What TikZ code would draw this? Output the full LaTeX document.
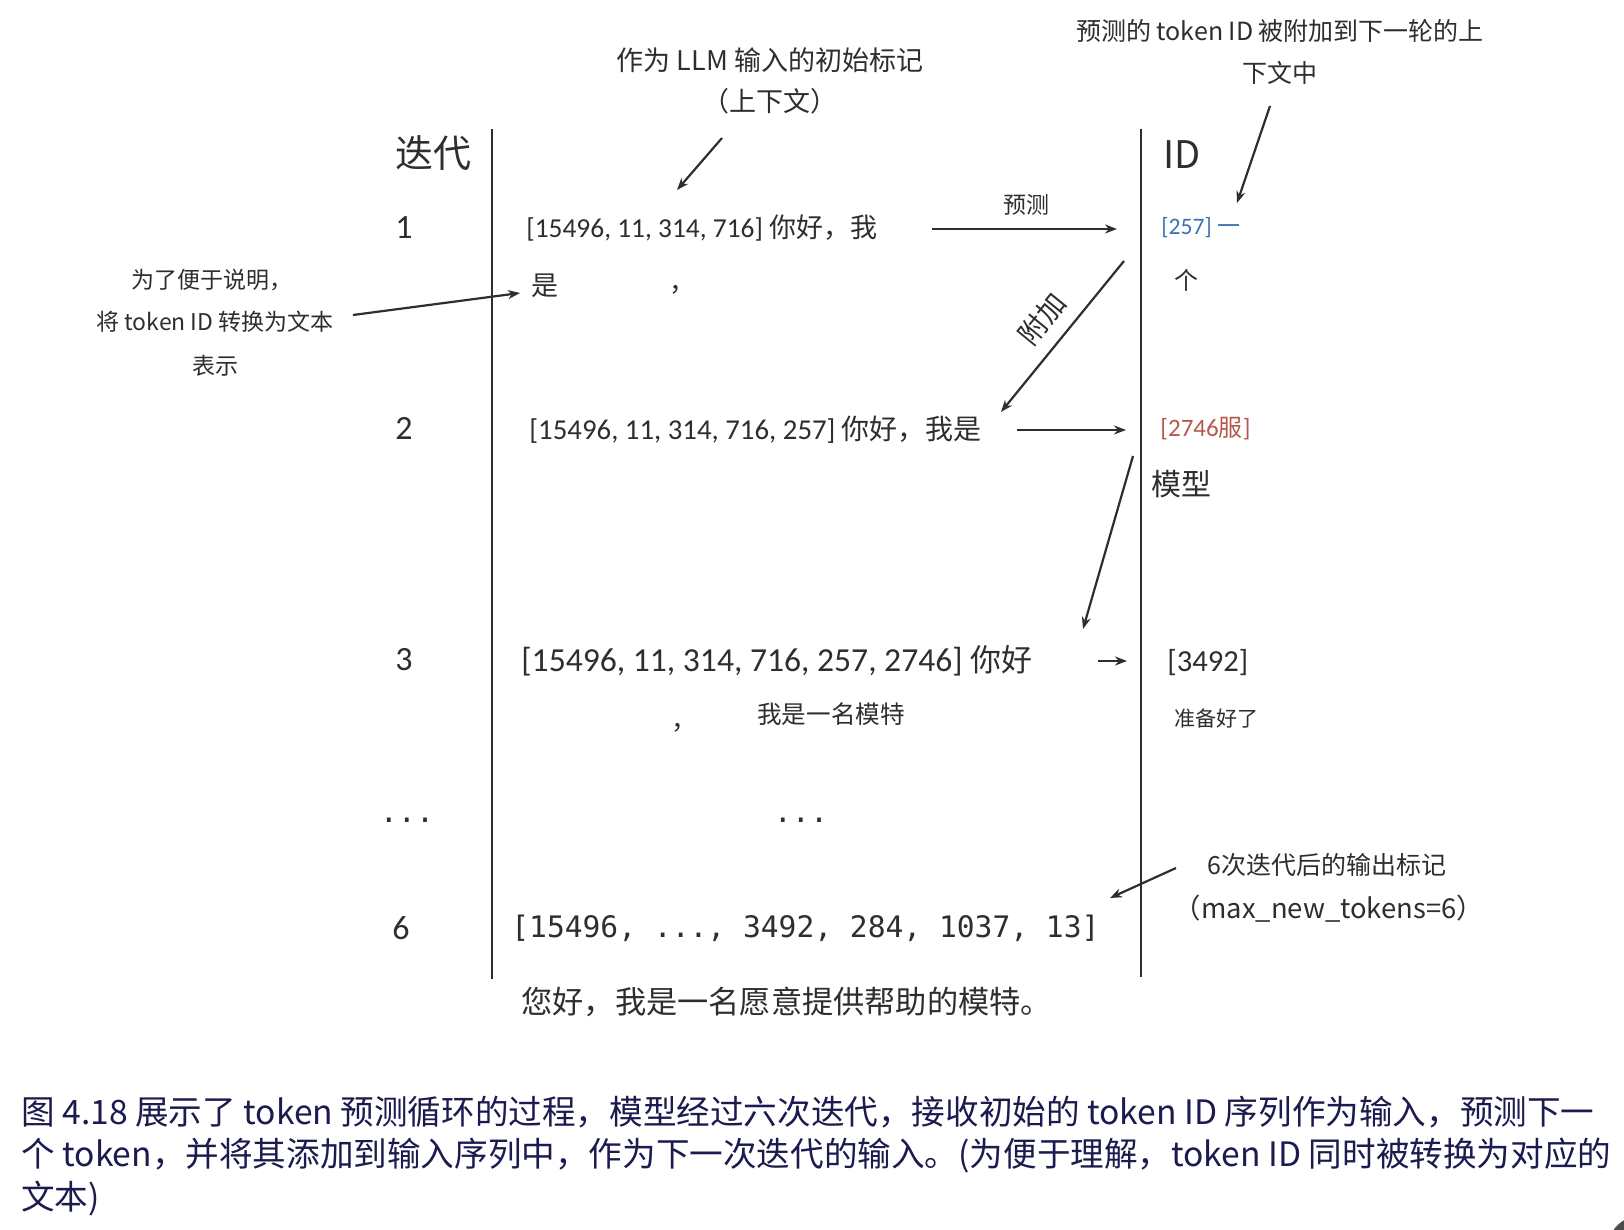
\documentclass[tikz,border=0pt]{standalone}
\usepackage{fontspec}
\setmainfont{Noto Sans CJK SC}
\newfontfamily\numf{Carlito}
\newfontfamily\monof{DejaVu Sans Mono}
\usetikzlibrary{arrows.meta}
\newcommand\fsz[1]{\fontsize{#1pt}{#1pt}\selectfont}
\definecolor{ink}{HTML}{2E2E2E}
\definecolor{blueid}{HTML}{3D72B8}
\definecolor{redid}{HTML}{B5594C}
\definecolor{capcol}{HTML}{1B1B50}
\begin{document}
\begin{tikzpicture}[x=0.5pt,y=-0.5pt,
  every node/.style={inner sep=0pt, text=ink},
  arr/.style={draw=ink, line width=1.1pt, -{Stealth[length=6pt,width=4.5pt]}},
  vline/.style={draw=ink, line width=1.1pt},
  rownum/.style={font=\numf\fsz{17}},
  note/.style={font=\fsz{12.5}},
  caption/.style={anchor=west, text=capcol, font=\fsz{16.8}}]

\useasboundingbox (0,0) rectangle (1624,1230);
\fill[white] (0,0) rectangle (1624,1230);

% vertical axes
\coordinate (lt) at (492,129);
\coordinate (lb) at (492,979);
\coordinate (rt) at (1141,129);
\coordinate (rb) at (1141,977);
\draw[vline] (lt) -- (lb);
\draw[vline] (rt) -- (rb);

% headers
\node (hiter) at (433,153) {\fsz{19}迭代};
\node (hid) at (1182,155) {\fsz{19}ID};

% top annotations
\node[note, font=\fsz{13.5}] (n1a) at (770,60) {作为 LLM 输入的初始标记};
\node[note, font=\fsz{13.5}] (n1b) at (770,101) {（上下文）};
\node[note] (n2a) at (1280,31) {预测的 token ID 被附加到下一轮的上};
\node[note] (n2b) at (1280,73) {下文中};

% left annotation
\node[font=\fsz{11.5}] (n3a) at (212,280) {为了便于说明，};
\node[font=\fsz{11.5}] (n3b) at (215,322) {将 token ID 转换为文本};
\node[font=\fsz{11.5}] (n3c) at (215,366) {表示};

% row numbers
\node[rownum] (r1) at (404,228) {1};
\node[rownum] (r2) at (404,428) {2};
\node[rownum] (r3) at (404,660) {3};
\node[font=\monof\fsz{15}] (rdots) at (407,820) {...};
\node[rownum] (r6) at (401,928) {6};

% row 1
\node[anchor=west] (t1) at (526,228) {{\numf\fsz{13.7}[15496, 11, 314, 716]\ }{\fsz{13.5}你好，我}};
\node[anchor=west, font=\fsz{13.5}] (t1b) at (531,286) {是};
\node[font=\fsz{13}] (t1c) at (682,290) {，};
\node[font=\fsz{11.5}] (lpred) at (1026,205) {预测};
\node[anchor=west, text=blueid] (o1) at (1161,228) {{\numf\fsz{11.8}[257]\ }{\fsz{11.5}一}};
\node[font=\fsz{12}] (o1b) at (1186,280) {个};

% row 2
\node[anchor=west] (t2) at (529,430) {{\numf\fsz{14.4}[15496, 11, 314, 716, 257]\ }{\fsz{14}你好，我是}};
\node[anchor=west, text=redid] (o2) at (1160,429) {{\numf\fsz{12.5}[2746}{\fsz{12}服}{\numf\fsz{12.5}]}};
\node[font=\fsz{15}] (o2b) at (1181,484) {模型};
\node[font=\fsz{14}, rotate=50.8] (lapp) at (1042,319) {附加};

% row 3
\node[anchor=west] (t3) at (521,661) {{\numf\fsz{16.8}[15496, 11, 314, 716, 257, 2746]\ }{\fsz{15.5}你好}};
\node[font=\fsz{13}] (t3b) at (684,728) {，};
\node[font=\fsz{12.3}] (t3c) at (831,714) {我是一名模特};
\node[anchor=west, font=\numf\fsz{15.3}] (o3) at (1167,663) {[3492]};
\node[font=\fsz{10.5}] (o3b) at (1216,718) {准备好了};

% middle dots
\node[font=\monof\fsz{15}] (mdots) at (801,820) {...};

% row 6
\node[anchor=west, font=\monof\fsz{14.8}] (t6) at (511,928) {[15496, ..., 3492, 284, 1037, 13]};
\node[anchor=west, font=\fsz{15.6}] (t6b) at (521,1002) {您好，我是一名愿意提供帮助的模特。};
\node[font=\fsz{12.5}] (n4a) at (1327,865) {6次迭代后的输出标记};
\node[font=\fsz{13.7}] (n4b) at (1329,909) {（max\_new\_tokens=6）};

% arrow coordinates
\coordinate (a1s) at (722,138);  \coordinate (a1e) at (677,190);
\coordinate (a2s) at (1270,106); \coordinate (a2e) at (1237,203);
\coordinate (a3s) at (353,315);  \coordinate (a3e) at (520,293);
\coordinate (p1s) at (932,229);  \coordinate (p1e) at (1117,229);
\coordinate (b1s) at (1124,261); \coordinate (b1e) at (1001,412);
\coordinate (p2s) at (1017,430); \coordinate (p2e) at (1126,430);
\coordinate (b2s) at (1133,456); \coordinate (b2e) at (1083,629);
\coordinate (p3s) at (1098,661); \coordinate (p3e) at (1127,661);
\coordinate (a4s) at (1176,868); \coordinate (a4e) at (1110,898);

\draw[arr] (a1s) -- (a1e);
\draw[arr] (a2s) -- (a2e);
\draw[arr] (a3s) -- (a3e);
\draw[arr] (p1s) -- (p1e);
\draw[arr] (b1s) -- (b1e);
\draw[arr] (p2s) -- (p2e);
\draw[arr] (b2s) -- (b2e);
\draw[arr] (p3s) -- (p3e);
\draw[arr] (a4s) -- (a4e);

% caption
\node[caption] (c1) at (21,1112) {图 4.18 展示了 token 预测循环的过程，模型经过六次迭代，接收初始的 token ID 序列作为输入，预测下一};
\node[caption] (c2) at (21,1156) {个 token，并将其添加到输入序列中，作为下一次迭代的输入。(为便于理解，token ID 同时被转换为对应的};
\node[caption] (c3) at (21,1199) {文本)};

% corner artifact
\fill[black!70] (1640,1248) circle (32);
\end{tikzpicture}
\end{document}
